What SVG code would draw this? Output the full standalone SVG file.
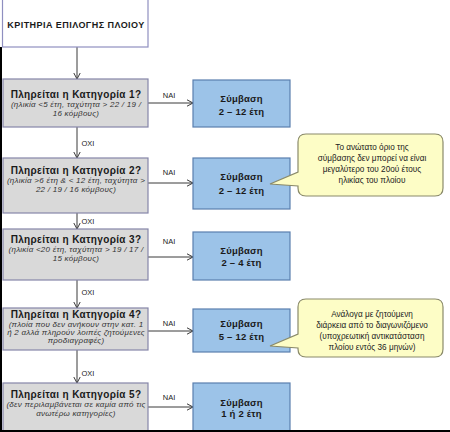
<svg xmlns="http://www.w3.org/2000/svg" width="450" height="432" viewBox="0 0 450 432">
<style>
text{font-family:"Liberation Sans",Arial,sans-serif;text-anchor:middle;fill:#1a1a1a}
.tb{fill:#fff;stroke:#8f8fc0;stroke-width:1.2}
.q{fill:#d9d9d9;stroke:#8585a8;stroke-width:1.2}
.s{fill:#9cc3e8;stroke:#5a7fae;stroke-width:1.2}
.c{fill:#fdfdc6;stroke:#8a8a6a;stroke-width:1.2}
.h{font-weight:bold;font-size:10px;letter-spacing:0.35px}
.sh{font-weight:bold;font-size:9.5px;letter-spacing:0.2px}
.i{font-style:italic;font-size:8px;letter-spacing:0.25px;fill:#333}
.cap{font-weight:bold;font-size:9px;letter-spacing:0.45px}
.n{font-size:7.5px;fill:#222}
.ct{font-size:8.2px;fill:#222}
.ln{stroke:#3a3a3a;stroke-width:1;fill:none}
</style>
<defs>
<marker id="a" markerWidth="8" markerHeight="8" refX="7" refY="4" orient="auto" markerUnits="userSpaceOnUse">
<polyline points="1,0.8 7,4 1,7.2" fill="none" stroke="#3a3a3a" stroke-width="1"/>
</marker>
</defs>
<rect x="0" y="0" width="450" height="432" fill="#fff"/>
<rect x="0" y="47" width="2" height="385" fill="#000"/>

<g id="connectors">
<line class="ln" x1="77" y1="47" x2="77" y2="79" marker-end="url(#a)"/>
<line class="ln" x1="77" y1="127" x2="77" y2="158" marker-end="url(#a)"/>
<line class="ln" x1="77" y1="213" x2="77" y2="229" marker-end="url(#a)"/>
<line class="ln" x1="77" y1="280" x2="77" y2="308" marker-end="url(#a)"/>
<line class="ln" x1="77" y1="350" x2="77" y2="383" marker-end="url(#a)"/>
<line class="ln" x1="148" y1="103" x2="193" y2="103" marker-end="url(#a)"/>
<line class="ln" x1="148" y1="183" x2="193" y2="183" marker-end="url(#a)"/>
<line class="ln" x1="148" y1="257" x2="193" y2="257" marker-end="url(#a)"/>
<line class="ln" x1="148" y1="331" x2="193" y2="331" marker-end="url(#a)"/>
<line class="ln" x1="148" y1="407" x2="193" y2="407" marker-end="url(#a)"/>
<text class="n" x="88" y="146">OXI</text>
<text class="n" x="88" y="224">OXI</text>
<text class="n" x="88" y="295">OXI</text>
<text class="n" x="88" y="376">OXI</text>
<text class="n" x="169" y="98">NAI</text>
<text class="n" x="169" y="175">NAI</text>
<text class="n" x="169" y="244">NAI</text>
<text class="n" x="169" y="326">NAI</text>
<text class="n" x="169" y="400">NAI</text>
</g>

<g id="title">
<rect class="tb" x="2.5" y="-1" width="145.5" height="48"/>
<text class="cap" x="76" y="28">ΚΡΙΤΗΡΙΑ ΕΠΙΛΟΓΗΣ ΠΛΟΙΟΥ</text>
</g>

<g id="q1">
<rect class="q" x="3" y="79" width="145" height="48"/>
<text class="h" x="76" y="98">Πληρείται η Κατηγορία 1?</text>
<text class="i" x="76" y="107">(ηλικία &lt;5 έτη, ταχύτητα &gt; 22 / 19 /</text>
<text class="i" x="76" y="116">16 κόμβους)</text>
</g>
<g id="s1">
<rect class="s" x="193" y="80" width="97" height="47"/>
<text class="sh" x="241.5" y="102">Σύμβαση</text>
<text class="sh" x="241.5" y="115">2 – 12 έτη</text>
</g>

<g id="q2">
<rect class="q" x="3" y="158" width="145" height="55"/>
<text class="h" x="76" y="174">Πληρείται η Κατηγορία 2?</text>
<text class="i" x="76" y="183">(ηλικία &gt;6 έτη &amp; &lt; 12 έτη, ταχύτητα &gt;</text>
<text class="i" x="76" y="192">22 / 19 / 16 κόμβους)</text>
</g>
<g id="s2">
<rect class="s" x="193" y="158" width="97" height="51"/>
<text class="sh" x="241.5" y="180">Σύμβαση</text>
<text class="sh" x="241.5" y="194">2 – 12 έτη</text>
</g>
<g id="note1">
<path class="c" d="M306,134 H435 Q443,134 443,142 V188 Q443,196 435,196 H306 Q298,196 298,188 V186 L270,184 L298,172 V142 Q298,134 306,134 Z"/>
<text class="ct" x="372" y="150">Το ανώτατο όριο της</text>
<text class="ct" x="372" y="161">σύμβασης δεν μπορεί να είναι</text>
<text class="ct" x="372" y="172">μεγαλύτερο του 20ού έτους</text>
<text class="ct" x="372" y="183">ηλικίας του πλοίου</text>
</g>

<g id="q3">
<rect class="q" x="3" y="229" width="145" height="51"/>
<text class="h" x="76" y="243">Πληρείται η Κατηγορία 3?</text>
<text class="i" x="76" y="252">(ηλικία &lt;20 έτη, ταχύτητα &gt; 19 / 17 /</text>
<text class="i" x="76" y="261">15 κόμβους)</text>
</g>
<g id="s3">
<rect class="s" x="193" y="232" width="97" height="48"/>
<text class="sh" x="241.5" y="254">Σύμβαση</text>
<text class="sh" x="241.5" y="266">2 – 4 έτη</text>
</g>

<g id="q4">
<rect class="q" x="3" y="308" width="145" height="42"/>
<text class="h" x="76" y="318">Πληρείται η Κατηγορία 4?</text>
<text class="i" x="76" y="327">(πλοία που δεν ανήκουν στην κατ. 1</text>
<text class="i" x="76" y="335">ή 2 αλλά πληρούν λοιπές ζητούμενες</text>
<text class="i" x="76" y="343">προδιαγραφές)</text>
</g>
<g id="s4">
<rect class="s" x="193" y="309" width="97" height="43"/>
<text class="sh" x="241.5" y="327">Σύμβαση</text>
<text class="sh" x="241.5" y="340">5 – 12 έτη</text>
</g>
<g id="note2">
<path class="c" d="M306,299 H435 Q443,299 443,307 V349 Q443,357 435,357 H306 Q298,357 298,349 V348 L270,346 L298,334 V307 Q298,299 306,299 Z"/>
<text class="ct" x="372" y="317">Ανάλογα με ζητούμενη</text>
<text class="ct" x="372" y="328">διάρκεια από το διαγωνιζόμενο</text>
<text class="ct" x="372" y="339">(υποχρεωτική αντικατάσταση</text>
<text class="ct" x="372" y="350">πλοίου εντός 36 μηνών)</text>
</g>

<g id="q5">
<rect class="q" x="3" y="383" width="145" height="52"/>
<text class="h" x="76" y="398">Πληρείται η Κατηγορία 5?</text>
<text class="i" x="76" y="407">(δεν περιλαμβάνεται σε καμία από τις</text>
<text class="i" x="76" y="416">ανωτέρω κατηγορίες)</text>
</g>
<g id="s5">
<rect class="s" x="193" y="383" width="97" height="52"/>
<text class="sh" x="241.5" y="406">Σύμβαση</text>
<text class="sh" x="241.5" y="417">1 ή 2 έτη</text>
</g>
<rect x="0" y="430" width="450" height="2" fill="#000"/>
</svg>
